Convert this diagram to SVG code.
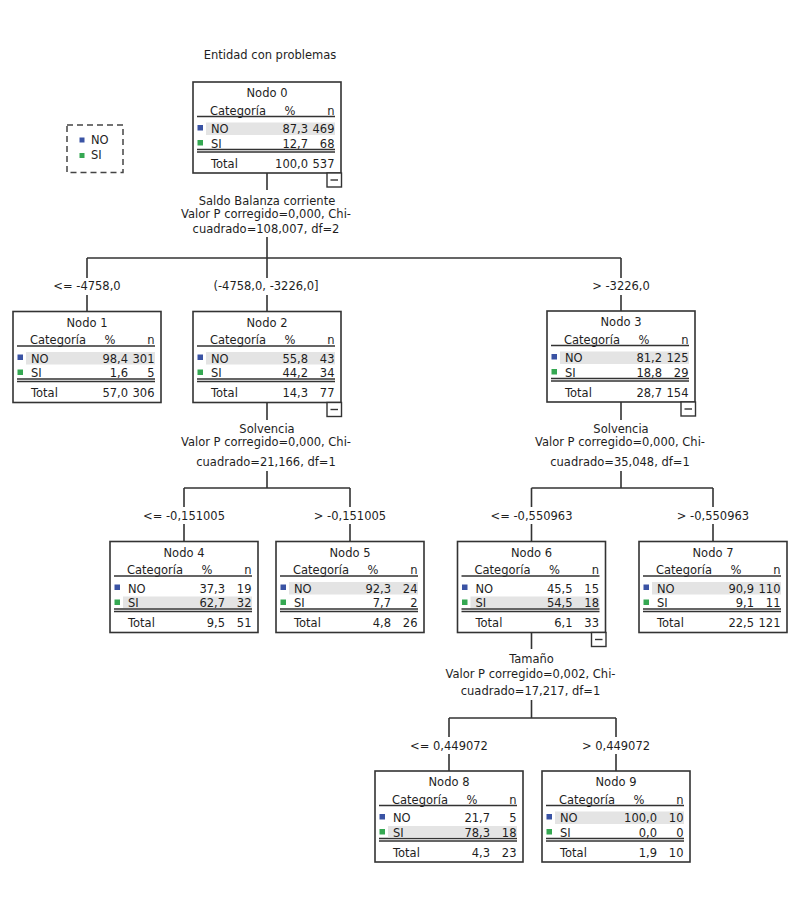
<svg xmlns="http://www.w3.org/2000/svg" width="797" height="907" viewBox="0 0 797 907">
<style>
text{font-family:"DejaVu Sans","Liberation Sans",sans-serif;font-size:11.5px;fill:#1e1e1e}
.m{text-anchor:middle}
.e{text-anchor:end}
.box{fill:#fff;stroke:#333;stroke-width:1.6}
.ln{stroke:#333;stroke-width:1.4;fill:none}
.hl{fill:#e4e4e4}
.no{fill:#3a53a4}
.si{fill:#35a852}
.mb{fill:#fff;stroke:#333;stroke-width:1.4}
.conn path{stroke:#333;stroke-width:1.6;fill:none}
</style>
<defs>
<g id="frame">
<rect class="box" x="0" y="0" width="148" height="91"/>
<text x="17" y="32.5">Categoría</text>
<text class="m" x="97" y="32.5">%</text>
<text class="e" x="141.5" y="32.5">n</text>
<path class="ln" d="M4,34.5H142M4,67.5H142M4,70H142"/>
<rect class="no" x="4.5" y="43" width="5.5" height="5.5"/>
<rect class="si" x="4.5" y="58" width="5.5" height="5.5"/>
</g>
<g id="minus">
<rect class="mb" x="134" y="91" width="14.5" height="14"/>
<path class="ln" d="M137.5,98H145"/>
</g>
<rect id="hlno" class="hl" x="13" y="40.5" width="129" height="12.5"/>
<rect id="hlsi" class="hl" x="13" y="55" width="129" height="11.5"/>
</defs>

<text class="m" x="270" y="59">Entidad con problemas</text>

<g id="legend">
<rect x="67" y="125" width="56" height="47.5" fill="#fff" stroke="#444" stroke-width="1.5" stroke-dasharray="6,4"/>
<rect class="no" x="79.5" y="137.5" width="5" height="5"/>
<text x="91" y="144">NO</text>
<rect class="si" x="79.5" y="153" width="5" height="5"/>
<text x="91" y="158.5">SI</text>
</g>

<g class="conn" id="connectors">
<path d="M267,173V190M267,237V258M87,258H621M87,258V278M87,295V311.5M267,258V278M267,295V311.5M621,258V278M621,295V311"/>
<path d="M267,402.5V420M267,471V488M184,488H350M184,488V507M184,524V541.5M350,488V507M350,524V541.5"/>
<path d="M621,402V420M621,471V488M531.5,488H713M531.5,488V507M531.5,524V541.5M713,488V507M713,524V541.5"/>
<path d="M531.5,632.5V649M531.5,700V718M449,718H616M449,718V737M449,754V771M616,718V737M616,754V771"/>
</g>

<g id="splits">
<text class="m" x="267" y="205">Saldo Balanza corriente</text>
<text class="m" x="266" y="218">Valor P corregido=0,000, Chi-</text>
<text class="m" x="266" y="233">cuadrado=108,007, df=2</text>
<text class="m" x="87" y="290">&lt;= -4758,0</text>
<text class="m" x="266" y="290">(-4758,0, -3226,0]</text>
<text class="m" x="621" y="290">&gt; -3226,0</text>

<text class="m" x="267" y="433">Solvencia</text>
<text class="m" x="266" y="446">Valor P corregido=0,000, Chi-</text>
<text class="m" x="266" y="466">cuadrado=21,166, df=1</text>
<text class="m" x="184" y="520">&lt;= -0,151005</text>
<text class="m" x="350" y="520">&gt; -0,151005</text>

<text class="m" x="621" y="433">Solvencia</text>
<text class="m" x="620" y="446">Valor P corregido=0,000, Chi-</text>
<text class="m" x="620" y="466">cuadrado=35,048, df=1</text>
<text class="m" x="531.5" y="520">&lt;= -0,550963</text>
<text class="m" x="713" y="520">&gt; -0,550963</text>

<text class="m" x="531.5" y="663">Tamaño</text>
<text class="m" x="530.5" y="678">Valor P corregido=0,002, Chi-</text>
<text class="m" x="530.5" y="695">cuadrado=17,217, df=1</text>
<text class="m" x="449" y="750">&lt;= 0,449072</text>
<text class="m" x="616" y="750">&gt; 0,449072</text>
</g>

<g id="node0" transform="translate(193,82)">
<use href="#frame"/><use href="#hlno"/><use href="#minus"/>
<text class="m" x="74" y="15">Nodo 0</text>
<text x="18" y="51">NO</text><text class="e" x="115" y="51">87,3</text><text class="e" x="141.5" y="51">469</text>
<text x="18" y="65.5">SI</text><text class="e" x="115" y="65.5">12,7</text><text class="e" x="141.5" y="65.5">68</text>
<text x="18" y="85.5">Total</text><text class="e" x="115" y="85.5">100,0</text><text class="e" x="141.5" y="85.5">537</text>
</g>

<g id="node1" transform="translate(13,311.5)">
<use href="#frame"/><use href="#hlno"/>
<text class="m" x="74" y="15">Nodo 1</text>
<text x="18" y="51">NO</text><text class="e" x="115" y="51">98,4</text><text class="e" x="141.5" y="51">301</text>
<text x="18" y="65.5">SI</text><text class="e" x="115" y="65.5">1,6</text><text class="e" x="141.5" y="65.5">5</text>
<text x="18" y="85.5">Total</text><text class="e" x="115" y="85.5">57,0</text><text class="e" x="141.5" y="85.5">306</text>
</g>

<g id="node2" transform="translate(193,311.5)">
<use href="#frame"/><use href="#hlno"/><use href="#minus"/>
<text class="m" x="74" y="15">Nodo 2</text>
<text x="18" y="51">NO</text><text class="e" x="115" y="51">55,8</text><text class="e" x="141.5" y="51">43</text>
<text x="18" y="65.5">SI</text><text class="e" x="115" y="65.5">44,2</text><text class="e" x="141.5" y="65.5">34</text>
<text x="18" y="85.5">Total</text><text class="e" x="115" y="85.5">14,3</text><text class="e" x="141.5" y="85.5">77</text>
</g>

<g id="node3" transform="translate(547,311)">
<use href="#frame"/><use href="#hlno"/><use href="#minus"/>
<text class="m" x="74" y="15">Nodo 3</text>
<text x="18" y="51">NO</text><text class="e" x="115" y="51">81,2</text><text class="e" x="141.5" y="51">125</text>
<text x="18" y="65.5">SI</text><text class="e" x="115" y="65.5">18,8</text><text class="e" x="141.5" y="65.5">29</text>
<text x="18" y="85.5">Total</text><text class="e" x="115" y="85.5">28,7</text><text class="e" x="141.5" y="85.5">154</text>
</g>

<g id="node4" transform="translate(110,541.5)">
<use href="#frame"/><use href="#hlsi"/>
<text class="m" x="74" y="15">Nodo 4</text>
<text x="18" y="51">NO</text><text class="e" x="115" y="51">37,3</text><text class="e" x="141.5" y="51">19</text>
<text x="18" y="65.5">SI</text><text class="e" x="115" y="65.5">62,7</text><text class="e" x="141.5" y="65.5">32</text>
<text x="18" y="85.5">Total</text><text class="e" x="115" y="85.5">9,5</text><text class="e" x="141.5" y="85.5">51</text>
</g>

<g id="node5" transform="translate(276,541.5)">
<use href="#frame"/><use href="#hlno"/>
<text class="m" x="74" y="15">Nodo 5</text>
<text x="18" y="51">NO</text><text class="e" x="115" y="51">92,3</text><text class="e" x="141.5" y="51">24</text>
<text x="18" y="65.5">SI</text><text class="e" x="115" y="65.5">7,7</text><text class="e" x="141.5" y="65.5">2</text>
<text x="18" y="85.5">Total</text><text class="e" x="115" y="85.5">4,8</text><text class="e" x="141.5" y="85.5">26</text>
</g>

<g id="node6" transform="translate(457.5,541.5)">
<use href="#frame"/><use href="#hlsi"/><use href="#minus"/>
<text class="m" x="74" y="15">Nodo 6</text>
<text x="18" y="51">NO</text><text class="e" x="115" y="51">45,5</text><text class="e" x="141.5" y="51">15</text>
<text x="18" y="65.5">SI</text><text class="e" x="115" y="65.5">54,5</text><text class="e" x="141.5" y="65.5">18</text>
<text x="18" y="85.5">Total</text><text class="e" x="115" y="85.5">6,1</text><text class="e" x="141.5" y="85.5">33</text>
</g>

<g id="node7" transform="translate(639,541.5)">
<use href="#frame"/><use href="#hlno"/>
<text class="m" x="74" y="15">Nodo 7</text>
<text x="18" y="51">NO</text><text class="e" x="115" y="51">90,9</text><text class="e" x="141.5" y="51">110</text>
<text x="18" y="65.5">SI</text><text class="e" x="115" y="65.5">9,1</text><text class="e" x="141.5" y="65.5">11</text>
<text x="18" y="85.5">Total</text><text class="e" x="115" y="85.5">22,5</text><text class="e" x="141.5" y="85.5">121</text>
</g>

<g id="node8" transform="translate(375,771)">
<use href="#frame"/><use href="#hlsi"/>
<text class="m" x="74" y="15">Nodo 8</text>
<text x="18" y="51">NO</text><text class="e" x="115" y="51">21,7</text><text class="e" x="141.5" y="51">5</text>
<text x="18" y="65.5">SI</text><text class="e" x="115" y="65.5">78,3</text><text class="e" x="141.5" y="65.5">18</text>
<text x="18" y="85.5">Total</text><text class="e" x="115" y="85.5">4,3</text><text class="e" x="141.5" y="85.5">23</text>
</g>

<g id="node9" transform="translate(542,771)">
<use href="#frame"/><use href="#hlno"/>
<text class="m" x="74" y="15">Nodo 9</text>
<text x="18" y="51">NO</text><text class="e" x="115" y="51">100,0</text><text class="e" x="141.5" y="51">10</text>
<text x="18" y="65.5">SI</text><text class="e" x="115" y="65.5">0,0</text><text class="e" x="141.5" y="65.5">0</text>
<text x="18" y="85.5">Total</text><text class="e" x="115" y="85.5">1,9</text><text class="e" x="141.5" y="85.5">10</text>
</g>
</svg>
